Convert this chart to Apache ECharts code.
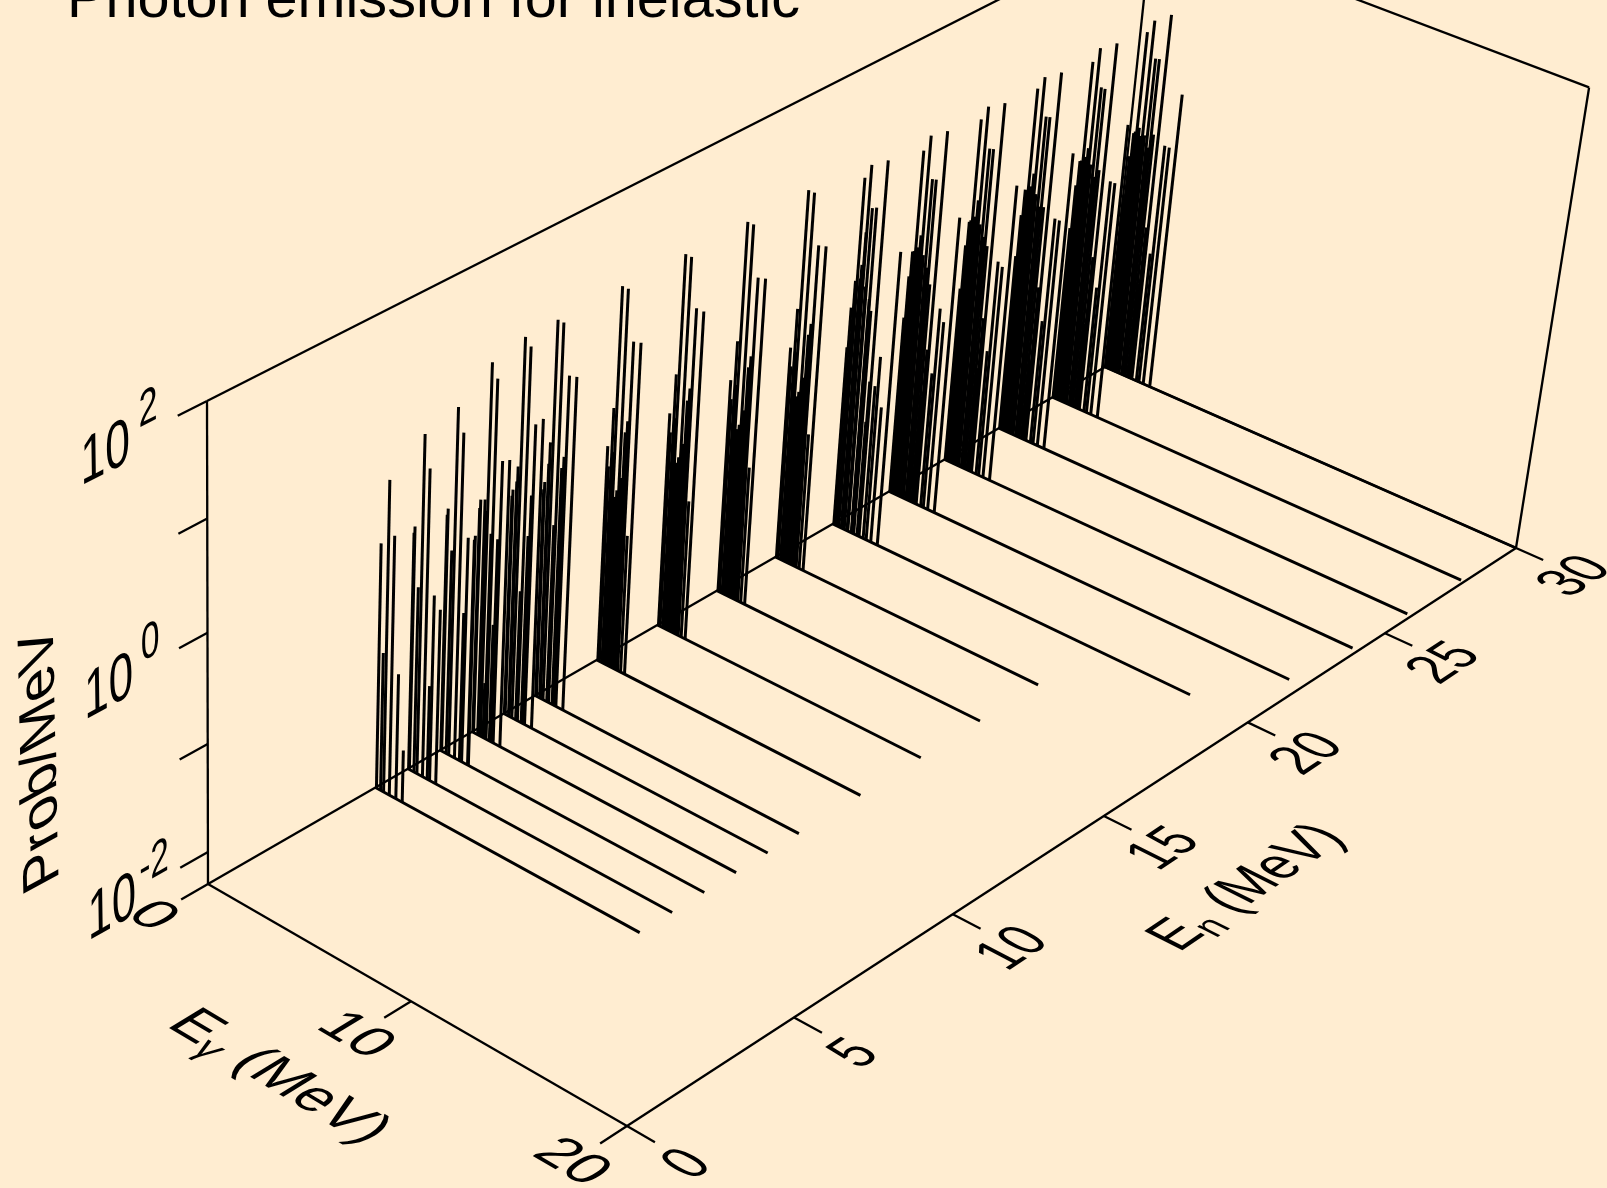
<!DOCTYPE html>
<html><head><meta charset="utf-8">
<style>html,body{margin:0;padding:0;background:#FFEDD1}#c{width:1607px;height:1188px}</style>
<script src="https://cdn.jsdelivr.net/npm/echarts@6/dist/echarts.min.js"></script>
</head><body><div id="c"></div>
<script>
// ---------- data: incident energies, floor line ends, [E-gamma, log10(Prob/MeV)] of each emission line
const incidentEnergies = [5,6,7,8,9,10,12,14,16,18,20,22,24,26,28,30];
const floorLineEnds = [12.9,12.9,12.9,12.9,12.9,12.9,12.9,12.9,12.9,12.9,17.35,19.35,19.75,19.8,19.85,20];
const spectrum5  = [[.05,-.03],[.26,-1.01],[.41,.57],[.7,.10],[1.03,-1.13],[1.35,-1.81]];
const spectrum6  = [[.03,-.1],[.07,-.04],[.3,-.57],[.45,.82],[.73,.54],[.97,-1.42],[1.09,-.57],[1.4,-.67]];
const spectrum7  = [[.03,-.1],[.07,-.04],[.3,-.40],[.43,.90],[.72,.70],[.97,-.91],[1.08,-.21],[1.38,-.2],[1.42,-.16]];
const spectrum8  = [[.03,-.2],[.07,-.12],[.28,-.10],[.32,-.2],[.42,1.14],[.55,-1.78],[.62,-.38],[.70,1.02],[.87,-1.2],[.95,-.40],[1.06,.32],[1.4,.36]];
const spectrum9  = [[.03,-.25],[.07,-.19],[.24,-.1],[.28,.04],[.41,1.21],[.6,-1.08],[.69,1.15],[.88,-.54],[.97,-.16],[1.05,.49],[1.4,.57]];
const spectrum10 = [[.03,-.35],[.07,-.28],[.23,-.1],[.27,.10],[.4,1.21],[.59,-.63],[.68,1.21],[.86,-.08],[.95,.03],[1.05,.77],[1.4,.79]];
const spectrum12 = [[.05,-.27],[.26,.10],[.4,1.21],[.59,-.63],[.68,1.21],[.86,-.07],[.95,.04],[1.05,.77],[1.4,.79]];
const spectrum14 = [[.05,-.28],[.26,.10],[.4,1.2],[.59,-.64],[.68,1.2],[.86,-.09],[.95,.03],[1.05,.77],[1.4,.77]];
const spectrum16 = [[.05,-.28],[.26,.10],[.4,1.2],[.59,-.65],[.68,1.2],[.86,-.09],[.95,.02],[1.05,.75],[1.4,.77]];
const spectrum18 = [[.05,-.28],[.26,.10],[.4,1.2],[.59,-.65],[.68,1.2],[.86,-.09],[.95,.02],[1.05,.75],[1.4,.77]];
const spectrum20 = [[.05,-.58],[.22,.06],[.3,1.02],[.47,.23],[.55,.54],[.58,1.16],[.76,.78],[.96,.80],[1.06,-.15],[1.23,-1.19],[1.33,1.26],[1.54,-.82],[1.69,-.53],[1.92,-.99],[2.25,.50]];
const spectrum22 = [[.03,-.60],[.19,.04],[.33,.99],[.53,.22],[.62,1.15],[.85,.77],[1.03,.78],[1.14,-.19],[1.2,-1.26],[1.37,1.25],[1.6,-1],[1.73,-.37],[1.95,-.48],[2.28,.53]];
const spectrum24 = [[.03,-.62],[.19,.03],[.33,1.0],[.53,.26],[.62,1.14],[.85,.77],[1.03,.78],[1.14,-.12],[1.2,-1.29],[1.37,1.23],[1.6,-1.09],[1.73,-.22],[1.95,-.25],[2.28,.54]];
const spectrum26 = [[.03,-.6],[.19,.05],[.33,1.01],[.53,.23],[.62,1.14],[.85,.79],[1.03,.80],[1.14,-.04],[1.2,-1.55],[1.37,1.24],[1.6,-1.1],[1.73,-.1],[1.95,-.1],[2.28,.56]];
const spectrum28 = [[.03,-.62],[.19,.04],[.33,.99],[.53,.19],[.62,1.14],[.85,.79],[1.03,.79],[1.14,.03],[1.2,-1.46],[1.37,1.24],[1.6,-1.07],[1.73,-.03],[1.95,-.03],[2.28,.55]];
const spectrum30 = [[.03,-.62],[.19,.03],[.33,1.0],[.53,.03],[.62,1.13],[.85,.79],[1.03,.80],[1.14,.09],[1.2,-1.36],[1.37,1.24],[1.6,-1.03],[1.73,.03],[1.95,.03],[2.28,.56]];
const lowClusterMid = [[.13,-.45],[.33,-.3],[.5,-.7],[.76,-.5],[1.2,-1]];
const lowClusterHigh = [[.11,-.2],[.26,.05],[.43,.1],[.72,.05],[.94,-.05],[1.27,-.8]];
const spectra = [spectrum5,spectrum6,spectrum7,spectrum8,spectrum9,spectrum10,spectrum12,spectrum14,spectrum16,spectrum18,spectrum20,spectrum22,spectrum24,spectrum26,spectrum28,spectrum30];
const clusters = [[],[],[],[],[],[],lowClusterMid,lowClusterMid,lowClusterMid,lowClusterMid,lowClusterHigh,lowClusterHigh,lowClusterHigh,lowClusterHigh,lowClusterHigh,lowClusterHigh];
const gammaTicks = [0,10,20];
const neutronTicks = [0,5,10,15,20,25,30];
const probTickLogs = [-2,-1,0,1,2];
const probLabelLogs = [-2,0,2];
const titleText = 'Photon emission for inelastic';

// ---------- view of the box (pixel images of box corners define the perspective)
const GMAX=20, NMAX=30, LMIN=-2.301, LMAX=2;
const view = {A:[208,884],B:[627,1126],E:[1105,367],D:[1516,548],TA:[207,401],TD:[1581,87]};
function solve3(m,r){
  const det=(a)=>a[0][0]*(a[1][1]*a[2][2]-a[1][2]*a[2][1])-a[0][1]*(a[1][0]*a[2][2]-a[1][2]*a[2][0])+a[0][2]*(a[1][0]*a[2][1]-a[1][1]*a[2][0]);
  const d=det(m),out=[];
  for(let c=0;c<3;c++){const t=m.map((row,i)=>row.map((v,j)=>j===c?r[i]:v));out.push(det(t)/d);}
  return out;
}
const H=p=>[p[0],p[1],1];
const hA=H(view.A),hB=H(view.B),hE=H(view.E),hD=H(view.D),hT=H(view.TA),hTD=H(view.TD);
const [l1,l2,nv]=solve3([0,1,2].map(i=>[hB[i],hE[i],-hD[i]]),hA);
const rhs=[0,1,2].map(i=>hA[i]-nv*hD[i]);
const a11=hT[0]*hT[0]+hT[1]*hT[1]+1,a12=-(hT[0]*hTD[0]+hT[1]*hTD[1]+1),a22=hTD[0]*hTD[0]+hTD[1]*hTD[1]+1;
const b1=hT[0]*rhs[0]+hT[1]*rhs[1]+rhs[2],b2=-(hTD[0]*rhs[0]+hTD[1]*rhs[1]+rhs[2]);
const dt=a11*a22-a12*a12,l3=(b1*a22-a12*b2)/dt;
function project(en,eg,lg){
  const u=eg/GMAX,v=en/NMAX,w=(lg-LMIN)/(LMAX-LMIN);
  const h=[0,1,2].map(i=>hA[i]+u*(l1*hB[i]-hA[i])+v*(l2*hE[i]-hA[i])+w*(l3*hT[i]-hA[i]));
  return [h[0]/h[2],h[1]/h[2]];
}
const frame=[
 [0,0,LMIN,0,GMAX,LMIN],[0,GMAX,LMIN,NMAX,GMAX,LMIN],[NMAX,0,LMIN,NMAX,GMAX,LMIN],[0,0,LMIN,NMAX,0,LMIN],
 [0,0,LMIN,0,0,LMAX],[NMAX,0,LMIN,NMAX,0,LMAX],[NMAX,GMAX,LMIN,NMAX,GMAX,LMAX],
 [0,0,LMAX,NMAX,0,LMAX],[NMAX,0,LMAX,NMAX,GMAX,LMAX]
].map(s=>s.concat(2.3));
const ticks=[];
gammaTicks.forEach(g=>ticks.push([0,g,LMIN,-0.78,g,LMIN,2.3]));
neutronTicks.forEach(n=>ticks.push([n,GMAX,LMIN,n,GMAX+1.25,LMIN,2.3]));
probTickLogs.forEach(l=>ticks.push([0,0,l,-0.8,0,l,2.3]));
const floorLines=incidentEnergies.map((n,i)=>[n,0,LMIN,n,floorLineEnds[i],LMIN,2.9]);
const spikes=[];
spectra.forEach((s,i)=>s.concat(clusters[i]).forEach(p=>spikes.push([incidentEnergies[i],p[0],LMIN,incidentEnergies[i],p[0],p[1],3])));

function dirOf(a,b){const p=project(...a),q=project(...b),dx=q[0]-p[0],dy=q[1]-p[1],L=Math.hypot(dx,dy);return [dx/L,dy/L];}
const labels=[];
function addLabel(text,pos,baseAxis,upAxis,bs,us,extra){labels.push(Object.assign({text,pos,baseAxis,upAxis,bs,us},extra||{}));}
const axEn=[1,0,0],axEg=[0,1,0],axZ=[0,0,1];
const FONT='"Liberation Sans",Arial,sans-serif';
gammaTicks.forEach(g=>addLabel(String(g),[-1.62,g,LMIN],axEg,axEn,58,56));
neutronTicks.forEach(n=>addLabel(String(n),[n-.08,GMAX+2.85,LMIN],axEn,[0,-1,0],48,62));
probLabelLogs.forEach(l=>{
  addLabel('10',[-2.75,0,l-.02],axEn,axZ,50,66);
  addLabel(String(l),[l<0?-1.55:-1.6,0,l+.18],axEn,axZ,38,50);
});
addLabel('Prob/MeV',[-4.6,0,-.31],axZ,[-1,0,0],58,58);
addLabel('{a|E}{s|γ}{a| (MeV)}',[-3.67,9.8,LMIN],axEg,axEn,58,58,{rich:true});
addLabel('{a|E}{s|n}{a| (MeV)}',[15.0,26.4,LMIN],axEn,[0,-1,0],50,62,{rich:true});

const F=50;
function textElement(lb,api){
  const pos=project(...lb.pos);
  const at=lb.pos;
  const step=a=>[at[0]+a[0]*0.2,at[1]+a[1]*0.2,at[2]+a[2]*0.05];
  const bd=dirOf(at,step(lb.baseAxis)), ud=dirOf(at,step(lb.upAxis));
  const a=bd[0]*lb.bs/F,b=bd[1]*lb.bs/F,c=-ud[0]*lb.us/F,d=-ud[1]*lb.us/F;
  const rot=Math.atan2(-b,a),ct=Math.cos(rot),st=Math.sin(rot);
  const sx=Math.hypot(a,b),cp=c*ct-d*st,dp=c*st+d*ct;
  const pt=api.coord(pos);
  const style={text:lb.text,x:0,y:0,fill:'#000',align:'center',verticalAlign:'middle',font:'normal '+F+'px '+FONT};
  if(lb.rich){style.rich={a:{fontSize:F,fontFamily:FONT,fill:'#000',lineHeight:70},s:{fontSize:F*.7,fontFamily:FONT,fill:'#000',padding:[F*.5,0,0,0],lineHeight:70}};}
  return {type:'text',x:pt[0],y:pt[1],rotation:rot,scaleX:sx,scaleY:dp,skewX:Math.atan(cp/dp),style};
}
function segSeries(name,data){
  return {type:'custom',name,coordinateSystem:'cartesian2d',clip:false,silent:true,animation:false,
    data:data,encode:{x:0,y:1},
    renderItem:(p,api)=>{
      const s=data[p.dataIndex];
      const a=api.coord(project(s[0],s[1],s[2])),b=api.coord(project(s[3],s[4],s[5]));
      return {type:'line',shape:{x1:a[0],y1:a[1],x2:b[0],y2:b[1]},style:{stroke:'#000',lineWidth:s[6],fill:null}};
    }};
}
const chart=echarts.init(document.getElementById('c'),null,{renderer:'canvas',width:1607,height:1188});
chart.setOption({
  animation:false,backgroundColor:'#FFEDD1',
  title:{text:titleText,left:67,top:-28,padding:0,textStyle:{fontFamily:FONT,fontSize:57.6,fontWeight:'normal',color:'#000'}},
  grid:{left:0,right:0,top:0,bottom:0},
  xAxis:{type:'value',min:0,max:1607,show:false},
  yAxis:{type:'value',min:0,max:1188,inverse:true,show:false},
  series:[
    segSeries('frame',frame),segSeries('ticks',ticks),segSeries('floor',floorLines),segSeries('spikes',spikes),
    {type:'custom',name:'labels',coordinateSystem:'cartesian2d',clip:false,silent:true,animation:false,
     data:labels.map((l,i)=>[i,0]),encode:{x:0,y:1},
     renderItem:(p,api)=>textElement(labels[p.dataIndex],api)}
  ]
});
</script></body></html>
